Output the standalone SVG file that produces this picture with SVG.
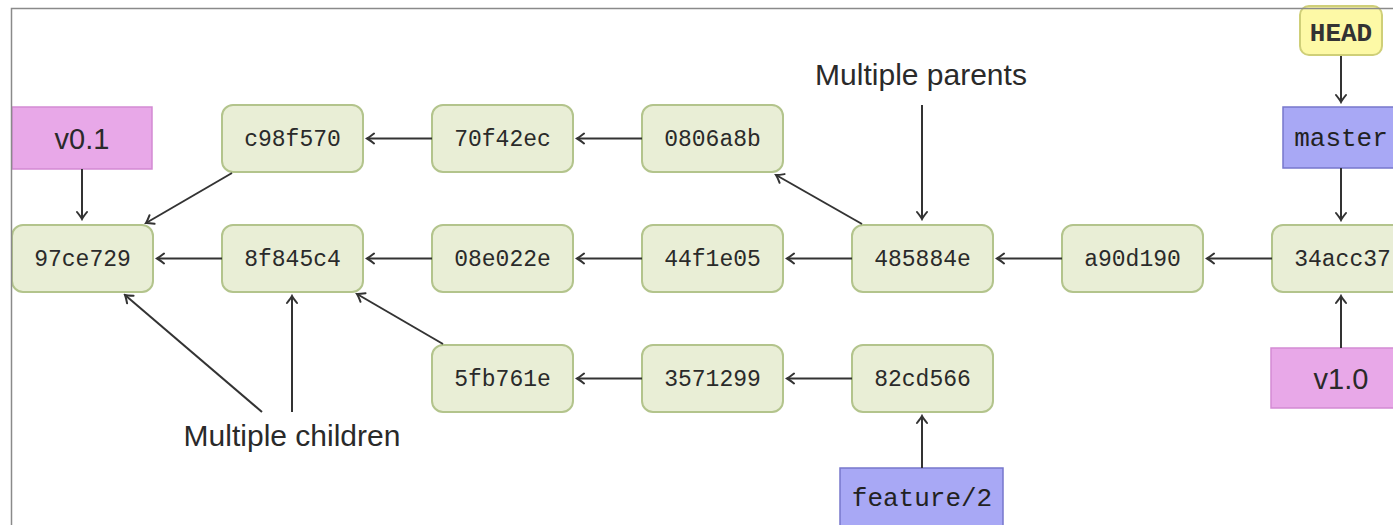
<svg xmlns="http://www.w3.org/2000/svg" width="1393" height="525" viewBox="0 0 1393 525">
  <style>
    .commit rect { fill: #e9eed6; stroke: #b3c48c; stroke-width: 2; }
    .commit text { font-family: "Liberation Mono", "DejaVu Sans Mono", monospace; font-size: 23px; fill: #2a2a2a; text-anchor: middle; }
    .tag rect { fill: #e8a8e8; stroke: #d38ad3; stroke-width: 1.5; }
    .tag text { font-family: "Liberation Sans", Arial, sans-serif; font-size: 29px; fill: #2a2a2a; text-anchor: middle; }
    .branch rect { fill: #a8a8f5; stroke: #7777cc; stroke-width: 1.5; }
    .branch text { font-family: "Liberation Mono", "DejaVu Sans Mono", monospace; font-size: 26px; fill: #222; text-anchor: middle; }
    .head rect { fill: #fdf9a6; stroke: #cfcf78; stroke-width: 2; }
    .head text { font-family: "Liberation Mono", "DejaVu Sans Mono", monospace; font-size: 26px; font-weight: bold; fill: #333; text-anchor: middle; }
    .note { font-family: "Liberation Sans", Arial, sans-serif; font-size: 30px; fill: #2a2a2a; text-anchor: middle; }
    #connectors line { stroke: #333; stroke-width: 2; marker-end: url(#arr); }
  </style>
  <defs>
    <marker id="arr" viewBox="-10 -7 12 14" refX="0" refY="0" markerWidth="12" markerHeight="14" orient="auto" markerUnits="userSpaceOnUse">
      <path d="M -7 -5 Q -2 -1 0 0 Q -2 1 -7 5" fill="none" stroke="#333" stroke-width="2" stroke-linecap="round"/>
    </marker>
  </defs>

  <rect width="1393" height="525" fill="#ffffff"/>

  <!-- commits: top row -->
  <g id="c98f570" class="commit"><rect x="222" y="105" width="141" height="67" rx="11"/><text x="292.5" y="146">c98f570</text></g>
  <g id="70f42ec" class="commit"><rect x="432" y="105" width="141" height="67" rx="11"/><text x="502.5" y="146">70f42ec</text></g>
  <g id="0806a8b" class="commit"><rect x="642" y="105" width="141" height="67" rx="11"/><text x="712.5" y="146">0806a8b</text></g>

  <!-- commits: middle row -->
  <g id="97ce729" class="commit"><rect x="12" y="225" width="141" height="67" rx="11"/><text x="82.5" y="266">97ce729</text></g>
  <g id="8f845c4" class="commit"><rect x="222" y="225" width="141" height="67" rx="11"/><text x="292.5" y="266">8f845c4</text></g>
  <g id="08e022e" class="commit"><rect x="432" y="225" width="141" height="67" rx="11"/><text x="502.5" y="266">08e022e</text></g>
  <g id="44f1e05" class="commit"><rect x="642" y="225" width="141" height="67" rx="11"/><text x="712.5" y="266">44f1e05</text></g>
  <g id="485884e" class="commit"><rect x="852" y="225" width="141" height="67" rx="11"/><text x="922.5" y="266">485884e</text></g>
  <g id="a90d190" class="commit"><rect x="1062" y="225" width="141" height="67" rx="11"/><text x="1132.5" y="266">a90d190</text></g>
  <g id="34acc37" class="commit"><rect x="1272" y="225" width="141" height="67" rx="11"/><text x="1342.5" y="266">34acc37</text></g>

  <!-- commits: bottom row -->
  <g id="5fb761e" class="commit"><rect x="432" y="345" width="141" height="67" rx="11"/><text x="502.5" y="386">5fb761e</text></g>
  <g id="3571299" class="commit"><rect x="642" y="345" width="141" height="67" rx="11"/><text x="712.5" y="386">3571299</text></g>
  <g id="82cd566" class="commit"><rect x="852" y="345" width="141" height="67" rx="11"/><text x="922.5" y="386">82cd566</text></g>

  <!-- tags -->
  <g id="v0.1" class="tag"><rect x="12" y="107" width="140" height="62"/><text x="82" y="149">v0.1</text></g>
  <g id="v1.0" class="tag"><rect x="1271" y="348" width="140" height="60"/><text x="1341" y="389">v1.0</text></g>

  <!-- branches and HEAD -->
  <g id="master" class="branch"><rect x="1283" y="107" width="125" height="61"/><text x="1341" y="146">master</text></g>
  <g id="feature-2" class="branch"><rect x="840" y="468" width="163" height="70"/><text x="922" y="506">feature/2</text></g>
  <g id="HEAD" class="head"><rect x="1300" y="6" width="82" height="49" rx="9"/><text x="1341" y="41">HEAD</text></g>

  <!-- annotations -->
  <g id="note-parents"><text class="note" x="921" y="85">Multiple parents</text></g>
  <g id="note-children"><text class="note" x="292" y="446">Multiple children</text></g>

  <g id="connectors">
    <!-- parent links, top row -->
    <line x1="432" y1="138.5" x2="367" y2="138.5"/>
    <line x1="642" y1="138.5" x2="577" y2="138.5"/>
    <!-- parent links, middle row -->
    <line x1="222" y1="258.5" x2="157" y2="258.5"/>
    <line x1="432" y1="258.5" x2="367" y2="258.5"/>
    <line x1="642" y1="258.5" x2="577" y2="258.5"/>
    <line x1="852" y1="258.5" x2="787" y2="258.5"/>
    <line x1="1062" y1="258.5" x2="997" y2="258.5"/>
    <line x1="1272" y1="258.5" x2="1207" y2="258.5"/>
    <!-- parent links, bottom row -->
    <line x1="642" y1="378.5" x2="577" y2="378.5"/>
    <line x1="852" y1="378.5" x2="787" y2="378.5"/>
    <!-- cross-row parent links -->
    <line x1="232" y1="173" x2="146" y2="223"/>
    <line x1="862" y1="224" x2="776" y2="175"/>
    <line x1="443" y1="344" x2="357" y2="294"/>
    <!-- refs -->
    <line x1="82" y1="169" x2="82" y2="219"/>
    <line x1="1341" y1="56" x2="1341" y2="102"/>
    <line x1="1341" y1="168" x2="1341" y2="220"/>
    <line x1="1341" y1="348" x2="1341" y2="296"/>
    <line x1="922" y1="468" x2="922" y2="416"/>
    <!-- annotation pointers -->
    <line x1="922" y1="105" x2="922" y2="219"/>
    <line x1="262" y1="412" x2="125" y2="295"/>
    <line x1="292" y1="412" x2="292" y2="296"/>
  </g>

  <!-- frame -->
  <path d="M 11.5 525 V 8.5 H 1393" fill="none" stroke="#8a8a8a" stroke-width="1.5"/>
</svg>
